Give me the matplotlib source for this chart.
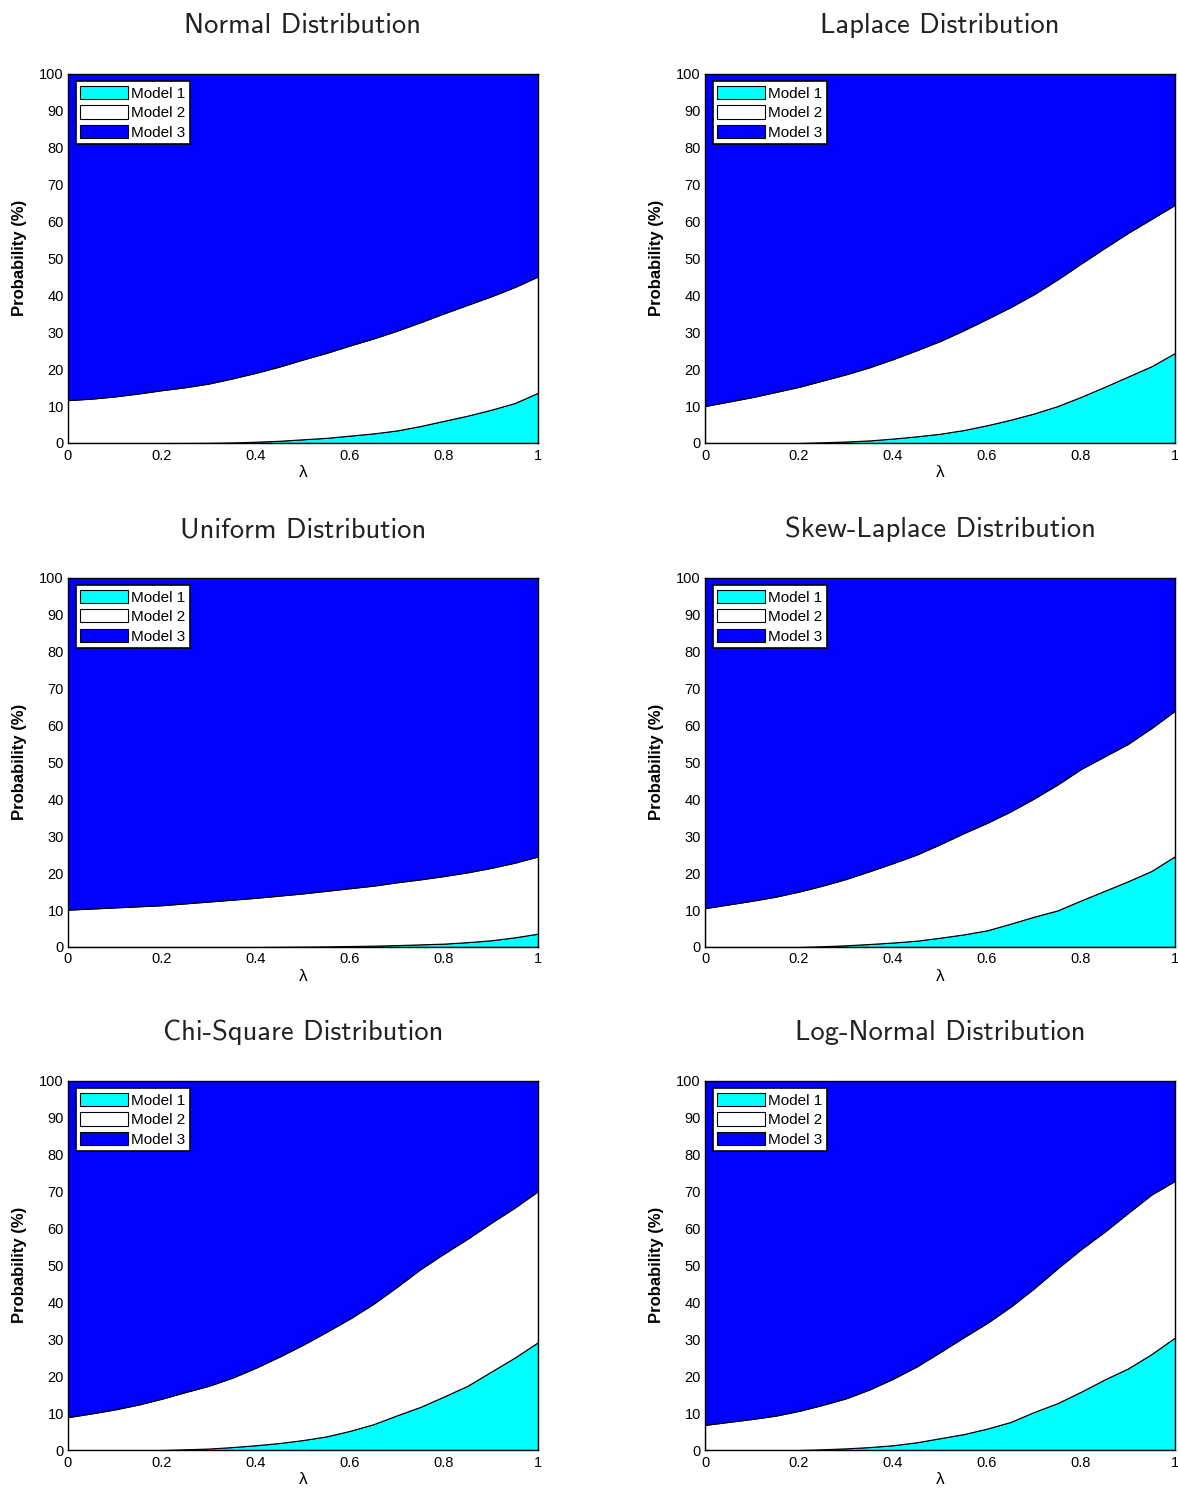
import numpy as np
import matplotlib
matplotlib.use("Agg")
import matplotlib.pyplot as plt

plt.rcParams['font.family'] = ['Liberation Sans', 'DejaVu Sans']

# lambda grid
lam = [0.0, 0.05, 0.1, 0.15, 0.2, 0.25, 0.3, 0.35, 0.4, 0.45, 0.5,
       0.55, 0.6, 0.65, 0.7, 0.75, 0.8, 0.85, 0.9, 0.95, 1.0]

titles = ["Normal Distribution", "Laplace Distribution",
          "Uniform Distribution", "Skew-Laplace Distribution",
          "Chi-Square Distribution", "Log-Normal Distribution"]

labels = ["Model 1", "Model 2", "Model 3"]

# probability of model 1 (%)
normal_m1 = [0, 0, 0, 0, 0, 0.02, 0.05, 0.15, 0.35, 0.6, 1.0,
             1.4, 2.0, 2.6, 3.4, 4.6, 6.0, 7.4, 9.0, 10.8, 13.6]
laplace_m1 = [0, 0, 0, 0, 0, 0.2, 0.4, 0.7, 1.2, 1.8, 2.5,
              3.5, 4.8, 6.3, 8.0, 10.0, 12.5, 15.2, 18.0, 20.8, 24.4]
uniform_m1 = [0, 0, 0, 0, 0, 0, 0, 0, 0, 0.05, 0.1,
              0.15, 0.25, 0.35, 0.5, 0.7, 0.9, 1.3, 1.8, 2.6, 3.6]
skewlap_m1 = [0, 0, 0, 0, 0, 0.2, 0.45, 0.8, 1.2, 1.7, 2.5,
              3.4, 4.5, 6.3, 8.2, 9.9, 12.6, 15.2, 17.8, 20.6, 24.6]
chisq_m1 = [0, 0, 0, 0, 0, 0.2, 0.4, 0.8, 1.3, 1.9, 2.7,
            3.7, 5.2, 7.0, 9.4, 11.7, 14.5, 17.4, 21.2, 25.0, 29.2]
lognorm_m1 = [0, 0, 0, 0, 0, 0.2, 0.45, 0.8, 1.3, 2.1, 3.2,
              4.3, 5.8, 7.6, 10.3, 12.7, 15.8, 19.1, 22.1, 26.0, 30.5]

# probability of model 1 + model 2 (%)
normal_m12 = [11.6, 12.0, 12.6, 13.4, 14.3, 15.1, 16.1, 17.5, 19.0, 20.7, 22.6,
              24.4, 26.4, 28.3, 30.4, 32.7, 35.1, 37.4, 39.7, 42.2, 45.1]
laplace_m12 = [10.0, 11.2, 12.4, 13.8, 15.2, 16.9, 18.6, 20.5, 22.7, 25.1, 27.6,
               30.5, 33.6, 36.8, 40.3, 44.3, 48.6, 52.8, 56.9, 60.7, 64.5]
uniform_m12 = [10.1, 10.4, 10.7, 11.0, 11.3, 11.8, 12.3, 12.8, 13.3, 13.9, 14.5,
               15.2, 15.9, 16.6, 17.5, 18.3, 19.2, 20.2, 21.4, 22.8, 24.5]
skewlap_m12 = [10.5, 11.5, 12.5, 13.6, 15.0, 16.6, 18.4, 20.5, 22.7, 25.0, 27.8,
               30.8, 33.6, 36.7, 40.2, 44.0, 48.2, 51.6, 55.0, 59.3, 64.0]
chisq_m12 = [8.9, 9.9, 11.0, 12.3, 13.9, 15.7, 17.4, 19.6, 22.3, 25.3, 28.5,
             32.0, 35.6, 39.6, 44.2, 49.0, 53.2, 57.2, 61.5, 65.6, 70.1]
lognorm_m12 = [6.8, 7.6, 8.4, 9.3, 10.6, 12.2, 14.0, 16.4, 19.3, 22.6, 26.5,
               30.5, 34.4, 38.8, 43.8, 49.2, 54.4, 59.1, 64.2, 69.2, 72.9]

m1_all = [normal_m1, laplace_m1, uniform_m1, skewlap_m1, chisq_m1, lognorm_m1]
m12_all = [normal_m12, laplace_m12, uniform_m12, skewlap_m12, chisq_m12, lognorm_m12]

colors = ['#00ffff', '#ffffff', '#0000ff']

fig = plt.figure(figsize=(11.78, 14.95), dpi=100)

lefts = [0.0577, 0.5985]
bottoms = [0.7037, 0.3666, 0.0301]
w, h = 0.399, 0.2470

for i in range(6):
    r, c = divmod(i, 2)
    ax = fig.add_axes([lefts[c], bottoms[r], w, h])
    m1 = np.array(m1_all[i])
    m12 = np.array(m12_all[i])
    m2 = m12 - m1
    m3 = 100 - m12
    ax.stackplot(lam, m1, m2, m3, colors=colors, labels=labels,
                 edgecolor='black', linewidth=0.8)
    ax.set_xlim(0, 1)
    ax.set_ylim(0, 100)
    ax.set_xticks([0, 0.2, 0.4, 0.6, 0.8, 1])
    ax.set_xticklabels(['0', '0.2', '0.4', '0.6', '0.8', '1'])
    ax.set_yticks(range(0, 101, 10))
    ax.tick_params(labelsize=10.5, length=0)
    ax.tick_params(axis='x', pad=4)
    ax.tick_params(axis='y', pad=3)
    for s in ax.spines.values():
        s.set_linewidth(1.0)
        s.set_zorder(5)
    ax.set_xlabel("λ", fontsize=12.5, labelpad=2)
    ax.set_ylabel("Probability (%)", fontsize=12, fontweight='bold', labelpad=9)
    ax.set_title(titles[i], fontsize=20.5, pad=29, color='#222222',
                 family=['cmss10', 'DejaVu Sans'])
    leg = ax.legend(loc='upper left', fontsize=11, frameon=True, fancybox=False,
                    handlelength=3.1, handleheight=0.95, labelspacing=0.3,
                    handletextpad=0.25, borderpad=0.3, borderaxespad=0.5)
    leg.get_frame().set_edgecolor('black')
    leg.get_frame().set_linewidth(1.2)
    leg.get_frame().set_alpha(1)

fig.savefig("out.png", dpi=100)
